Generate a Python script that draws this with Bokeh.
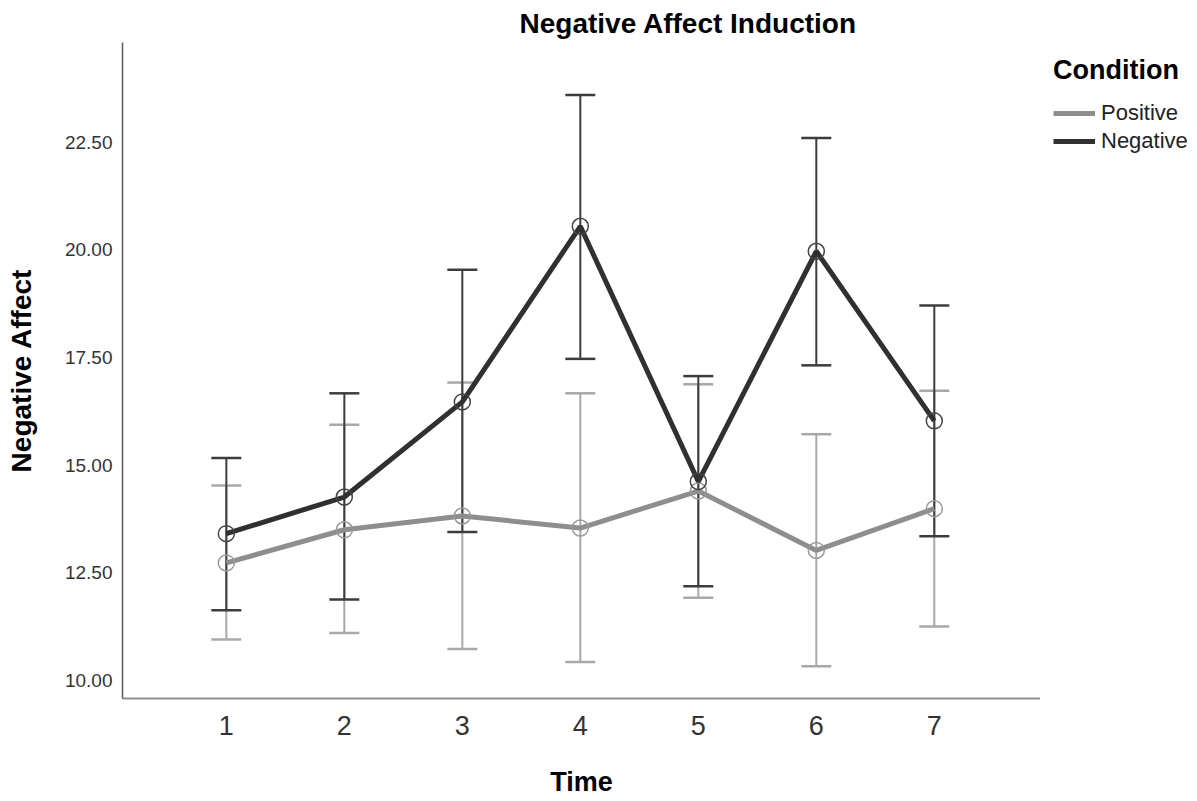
from bokeh.plotting import figure
from bokeh.layouts import row
from bokeh.models import (ColumnDataSource, Whisker, TeeHead, FixedTicker,
                          NumeralTickFormatter, Legend, LegendItem, Title, Range1d)
from bokeh.embed import file_html
from bokeh.resources import INLINE

# ---- data ----
time = [1, 2, 3, 4, 5, 6, 7]
pos_mean = [12.73, 13.50, 13.82, 13.54, 14.40, 13.02, 13.99]
pos_low = [10.95, 11.10, 10.73, 10.43, 11.92, 10.33, 11.25]
pos_high = [14.53, 15.94, 16.92, 16.67, 16.88, 15.72, 16.73]
neg_mean = [13.41, 14.26, 16.47, 20.55, 14.62, 19.97, 16.03]
neg_low = [11.63, 11.88, 13.45, 17.47, 12.19, 17.32, 13.35]
neg_high = [15.17, 16.67, 19.54, 23.60, 17.07, 22.60, 18.71]
y_ticks = [10.0, 12.5, 15.0, 17.5, 20.0, 22.5]
series_names = ["Positive", "Negative"]

FONT = "Liberation Sans"
POS_LINE = "#8e8e8e"
POS_BAR = "#a8a8a8"
NEG_LINE = "#303030"
NEG_BAR = "#3c3c3c"

FRAME_W = 918
FRAME_H = 656
TOP = 42
BOTTOM = 100

p = figure(frame_width=FRAME_W, frame_height=FRAME_H,
           output_backend="svg", toolbar_location=None,
           x_range=Range1d(0.12, 7.9), y_range=Range1d(9.58, 24.82),
           min_border_left=122, min_border_top=TOP, min_border_bottom=BOTTOM,
           min_border_right=0)
p.outline_line_color = None
p.xgrid.visible = False
p.ygrid.visible = False
p.background_fill_color = "white"
p.border_fill_color = "white"

src_pos = ColumnDataSource(dict(x=time, m=pos_mean, lo=pos_low, hi=pos_high))
src_neg = ColumnDataSource(dict(x=time, m=neg_mean, lo=neg_low, hi=neg_high))

# error bars
for src, col in ((src_pos, POS_BAR), (src_neg, NEG_BAR)):
    w = Whisker(source=src, base="x", upper="hi", lower="lo", dimension="height",
                line_color=col, line_width=2,
                upper_head=TeeHead(size=30, line_color=col, line_width=2.5),
                lower_head=TeeHead(size=30, line_color=col, line_width=2.5))
    p.add_layout(w)

# lines and markers
p.line("x", "m", source=src_pos, line_color=POS_LINE, line_width=5)
p.scatter("x", "m", source=src_pos, marker="circle", size=16, fill_color=None,
          line_color="#999999", line_width=1.5)
p.line("x", "m", source=src_neg, line_color=NEG_LINE, line_width=5)
p.scatter("x", "m", source=src_neg, marker="circle", size=16, fill_color=None,
          line_color="#444444", line_width=1.5)

# axes
p.xaxis.ticker = FixedTicker(ticks=time)
p.yaxis.ticker = FixedTicker(ticks=y_ticks)
p.yaxis.formatter = NumeralTickFormatter(format="0.00")
for ax in (p.xaxis[0], p.yaxis[0]):
    ax.major_tick_line_color = None
    ax.minor_tick_line_color = None
    ax.major_tick_in = 0
    ax.major_tick_out = 0
    ax.minor_tick_in = 0
    ax.minor_tick_out = 0
    ax.major_label_text_font = FONT
    ax.major_label_text_color = "#333333"
    ax.axis_label_text_font = FONT
    ax.axis_label_text_font_style = "bold"
    ax.axis_label_text_color = "#000000"

p.xaxis.axis_line_color = "#8f8f8f"
p.xaxis.axis_line_width = 2
p.xaxis.major_label_text_font_size = "27px"
p.xaxis.major_label_standoff = 17
p.xaxis.axis_label = "Time"
p.xaxis.axis_label_text_font_size = "27px"
p.xaxis.axis_label_standoff = 29

p.yaxis.axis_line_color = "#5a5a5a"
p.yaxis.axis_line_width = 1.5
p.yaxis.major_label_text_font_size = "19px"
p.yaxis.major_label_standoff = 10
p.yaxis.axis_label = "Negative Affect"
p.yaxis.axis_label_text_font_size = "28px"
p.yaxis.axis_label_standoff = 25

# title
t = Title(text="Negative Affect Induction", align="left", offset=397,
          text_font=FONT, text_font_style="bold", text_font_size="28px",
          text_color="#000000", standoff=7)
p.add_layout(t, "above")

# legend panel (separate narrow figure to the right of the plot).
# Its y range hides the sample lines, which only serve as legend glyphs.
pl = figure(width=156, height=TOP + FRAME_H + BOTTOM,
            output_backend="svg", toolbar_location=None,
            x_range=Range1d(0, 1), y_range=Range1d(-2, -1),
            x_axis_location=None, y_axis_location=None,
            min_border_left=0, min_border_top=TOP, min_border_right=0,
            min_border_bottom=BOTTOM)
pl.outline_line_color = None
pl.xgrid.visible = False
pl.ygrid.visible = False
lp = pl.line("x", "m", source=src_pos, line_color=POS_LINE, line_width=5)
ln = pl.line("x", "m", source=src_neg, line_color=NEG_LINE, line_width=5)
legend = Legend(items=[LegendItem(label=series_names[0], renderers=[lp]),
                       LegendItem(label=series_names[1], renderers=[ln])],
                title="Condition", location="top_left",
                title_text_font=FONT, title_text_font_style="bold",
                title_text_font_size="27px", title_standoff=14,
                title_text_color="#000000",
                label_text_font=FONT, label_text_font_size="22px",
                label_text_color="#222222",
                glyph_width=42, glyph_height=24, label_height=24,
                label_standoff=6, spacing=2, margin=13, padding=0,
                border_line_color=None, background_fill_alpha=0)
pl.add_layout(legend, "center")

layout = row(p, pl)
open("out.html", "w").write(file_html(layout, INLINE))
